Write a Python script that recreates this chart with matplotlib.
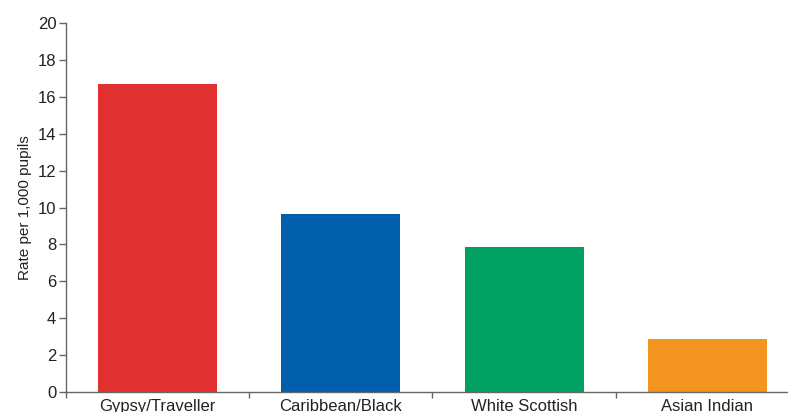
import matplotlib
matplotlib.use("Agg")
import matplotlib.pyplot as plt

categories = ["Gypsy/Traveller", "Caribbean/Black", "White Scottish", "Asian Indian"]
rates = [16.7, 9.65, 7.85, 2.85]
colors = ["#E03030", "#005EAA", "#00A062", "#F39320"]

plt.rcParams["font.family"] = ["Liberation Sans", "DejaVu Sans"]

fig = plt.figure(figsize=(7.88, 4.12), dpi=100)
ax = fig.add_axes([0.0838, 0.0485, 0.930, 0.8956])

x = list(range(len(categories)))
ax.bar(x, rates, width=0.65, color=colors)

ax.set_xlim(-0.5, len(categories) - 0.5)
ax.set_ylim(0, 20)
ax.set_yticks(range(0, 21, 2))
ax.set_xticks(x)
ax.set_xticklabels(categories, fontsize=12, color="#222222")
ax.set_xticks([i - 0.5 for i in range(len(categories) + 1)], minor=True)
ax.tick_params(axis="x", which="major", length=0, pad=5)
ax.tick_params(axis="x", which="minor", length=4, width=1, color="#666666")
ax.tick_params(axis="y", length=5, width=1, color="#666666", labelsize=12,
               labelcolor="#222222", pad=2)

ax.set_ylabel("Rate per 1,000 pupils", fontsize=11, color="#222222", labelpad=4)

for s in ["top", "right"]:
    ax.spines[s].set_visible(False)
for s in ["left", "bottom"]:
    ax.spines[s].set_color("#666666")
    ax.spines[s].set_linewidth(1)

fig.savefig("out.png", dpi=100)
